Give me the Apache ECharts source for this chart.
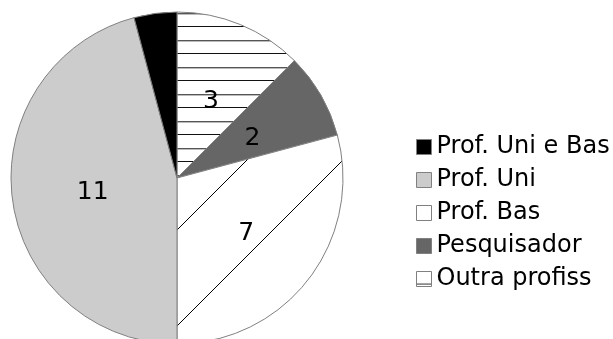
<!DOCTYPE html>
<html><head><meta charset="utf-8">
<script src="https://cdn.jsdelivr.net/npm/echarts@6/dist/echarts.min.js"></script>
<style>html,body{margin:0;padding:0;background:#fff}#chart{width:613px;height:339px}</style>
</head><body><div id="chart"></div>
<script>
// Legend order (top to bottom)
const categories = ['Prof. Uni e Bas', 'Prof. Uni', 'Prof. Bas', 'Pesquisador', 'Outra profiss'];
const counts = [1, 11, 7, 2, 3];
// Slice order, clockwise from 12 o'clock
const sliceOrder = ['Outra profiss', 'Pesquisador', 'Prof. Bas', 'Prof. Uni', 'Prof. Uni e Bas'];

// Fill patterns
function horizontalLines() {
  const c = document.createElement('canvas');
  c.width = 8; c.height = 27;
  const g = c.getContext('2d');
  g.fillStyle = '#fff'; g.fillRect(0, 0, 8, 27);
  g.fillStyle = '#111'; g.fillRect(0, 26, 8, 1);
  g.fillStyle = '#555'; g.fillRect(0, 13, 8, 1);
  g.fillStyle = '#bbb'; g.fillRect(0, 14, 8, 1);
  return c;
}
function diagonalLines() {
  const s = 96;
  const c = document.createElement('canvas');
  c.width = s; c.height = s;
  const g = c.getContext('2d');
  g.fillStyle = '#fff'; g.fillRect(0, 0, s, s);
  g.strokeStyle = '#000'; g.lineWidth = 1;
  g.beginPath();
  g.moveTo(0, 23); g.lineTo(23, 0);
  g.moveTo(23, s); g.lineTo(s, 23);
  g.stroke();
  return c;
}
function legendLines() {
  const c = document.createElement('canvas');
  c.width = 15; c.height = 15;
  const g = c.getContext('2d');
  g.fillStyle = '#fff'; g.fillRect(0, 0, 15, 15);
  g.fillStyle = '#333'; g.fillRect(0, 12, 15, 1);
  return c;
}

const fills = {
  'Prof. Uni e Bas': '#000000',
  'Prof. Uni': '#cccccc',
  'Prof. Bas': { image: diagonalLines(), repeat: 'repeat' },
  'Pesquisador': '#666666',
  'Outra profiss': { image: horizontalLines(), repeat: 'repeat' }
};
const legendFills = {
  'Prof. Uni e Bas': '#000000',
  'Prof. Uni': '#cccccc',
  'Prof. Bas': '#ffffff',
  'Pesquisador': '#666666',
  'Outra profiss': { image: legendLines(), repeat: 'repeat' }
};

const pieData = sliceOrder.map(name => ({
  name,
  value: counts[categories.indexOf(name)],
  itemStyle: { color: fills[name] },
  label: { show: name !== 'Prof. Uni e Bas' }
}));

const chart = echarts.init(document.getElementById('chart'), null, { renderer: 'canvas' });
chart.setOption({
  animation: false,
  backgroundColor: '#fff',
  legend: {
    orient: 'vertical',
    left: 411,
    top: 130,
    itemWidth: 15,
    itemHeight: 15,
    itemGap: 9,
    itemTextGap: 8,
    icon: 'rect',
    selectedMode: false,
    textStyle: { fontFamily: 'DejaVu Sans', fontSize: 24, color: '#000' },
    data: categories.map(name => ({
      name,
      itemStyle: { color: legendFills[name], borderColor: '#808080', borderWidth: 1 }
    }))
  },
  series: [{
    type: 'pie',
    center: [177, 178],
    radius: 166,
    startAngle: 90,
    clockwise: true,
    avoidLabelOverlap: false,
    emphasis: { disabled: true },
    itemStyle: { borderColor: '#808080', borderWidth: 1 },
    label: {
      position: 'inside',
      formatter: '{c}',
      fontFamily: 'DejaVu Sans',
      fontSize: 25,
      color: '#000',
      offset: [1, 3]
    },
    labelLine: { show: false },
    data: pieData
  }]
});
</script>
</body></html>
